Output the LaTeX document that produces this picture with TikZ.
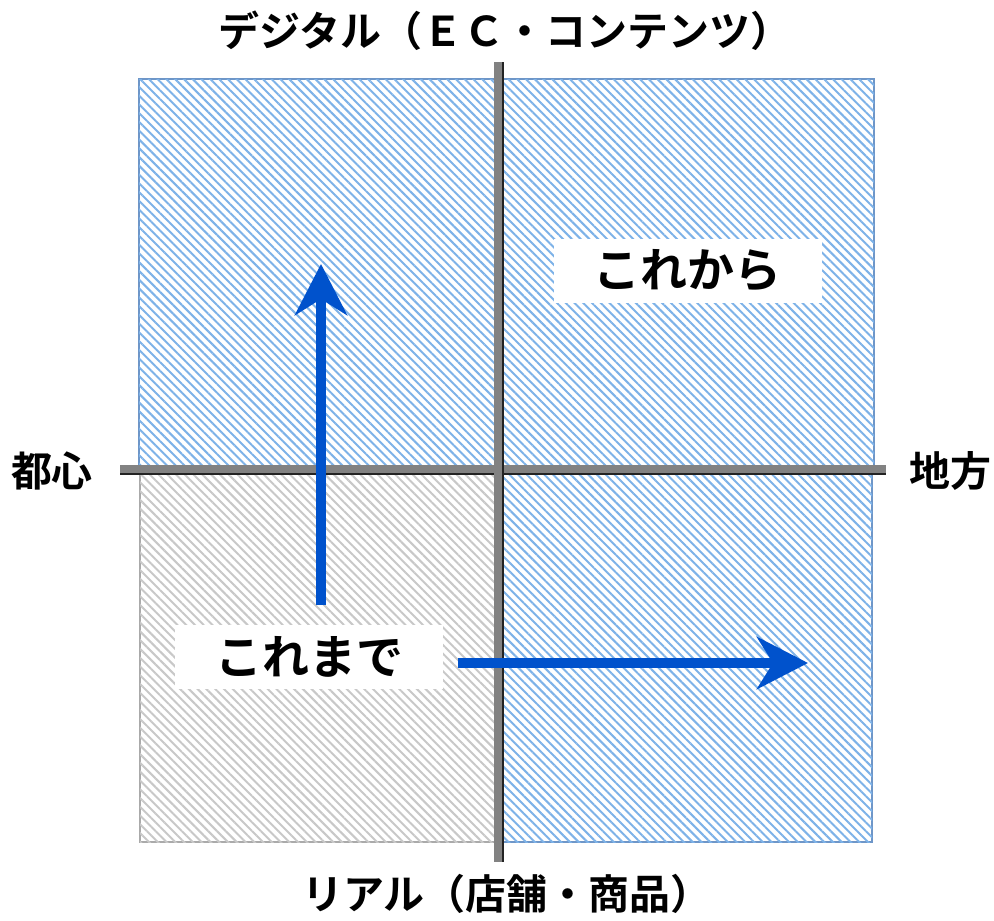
\documentclass[tikz,border=0pt]{standalone}
\usepackage{fontspec}
\newfontfamily\jp{Noto Sans CJK JP}[BoldFont=* Bold]
\usetikzlibrary{patterns.meta,arrows.meta}
\definecolor{hatchblue}{RGB}{125,178,232}
\definecolor{edgeblue}{RGB}{110,150,200}
\definecolor{hatchgray}{RGB}{200,200,200}
\definecolor{edgegray}{RGB}{170,170,170}
\definecolor{axisgray}{RGB}{130,130,130}
\definecolor{axisdark}{RGB}{35,35,35}
\definecolor{arrowblue}{RGB}{0,82,204}
\tikzset{
  bluequad/.style={draw=edgeblue,line width=2pt,fill=white,
    postaction={pattern={Lines[angle=-45,distance=6.2pt,line width=2pt]},pattern color=hatchblue}},
  grayquad/.style={draw=edgegray,line width=2pt,fill=white,
    postaction={pattern={Lines[angle=-45,distance=6.2pt,line width=2pt]},pattern color=hatchgray}},
  axisline/.style={draw=axisgray,line width=8pt},
  axisshadow/.style={draw=axisdark,line width=2.5pt},
  bigarrow/.style={draw=arrowblue,line width=9.5pt,
    -{Stealth[length=51pt,width=52pt,inset=16pt,fill=arrowblue]}},
  axislabel/.style={font=\jp\bfseries\fontsize{41}{45}\selectfont,inner sep=0pt},
  tagbox/.style={fill=white,inner sep=0pt,minimum width=268pt,minimum height=64pt,
    font=\jp\bfseries\fontsize{47}{52}\selectfont}
}
\begin{document}
\begin{tikzpicture}[x=1pt,y=-1pt]
\useasboundingbox (0,0) rectangle (994,921);
% quadrants
\path[bluequad] (139,79) rectangle (497,467);
\path[bluequad] (500,79) rectangle (874,467);
\path[grayquad] (140,470) rectangle (497,842);
\path[bluequad] (500,470) rectangle (872,842);
% axes
\coordinate (hL) at (120,469);
\coordinate (hR) at (886,469);
\coordinate (hLs) at (120,474);
\coordinate (hRs) at (886,474);
\coordinate (vT) at (497.5,62);
\coordinate (vB) at (497.5,862);
\coordinate (vTs) at (503,62);
\coordinate (vBs) at (503,862);
\draw[axisshadow] (hLs) -- (hRs);
\draw[axisline] (hL) -- (hR);
\draw[axisshadow] (vTs) -- (vBs);
\draw[axisline] (vT) -- (vB);
% arrows
\coordinate (upS) at (321,605);
\coordinate (upE) at (321,264);
\coordinate (rtS) at (458,663);
\coordinate (rtE) at (808,663);
\draw[bigarrow] (upS) -- (upE);
\draw[bigarrow] (rtS) -- (rtE);
% tags
\node[tagbox] (future) at (687.5,270.5) {これから};
\node[tagbox] (past) at (309,656.5) {これまで};
% axis labels
\node[axislabel] (top) at (505,31) {デジタル（ＥＣ・コンテンツ）};
\node[axislabel] (bottom) at (507,894) {リアル（店舗・商品）};
\node[axislabel] (left) at (52,471) {都心};
\node[axislabel] (right) at (950,471) {地方};
\end{tikzpicture}
\end{document}
